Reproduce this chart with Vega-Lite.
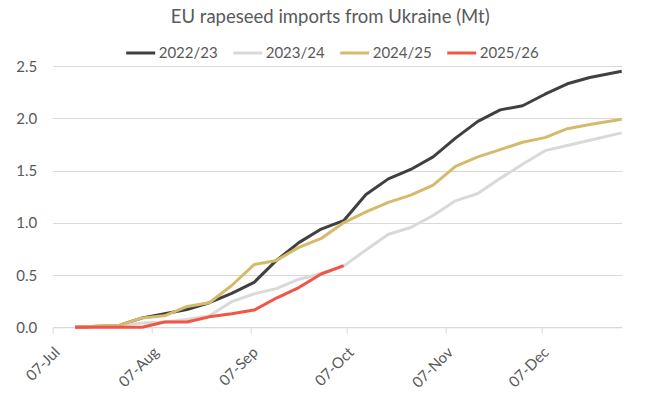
{
  "$schema": "https://vega.github.io/schema/vega-lite/v6.json",
  "autosize": "none",
  "padding": {"left": 52.7, "top": 66, "right": 24.3, "bottom": 75.7},
  "width": 569,
  "height": 261.3,
  "background": "white",
  "title": {
    "text": "EU rapeseed imports from Ukraine (Mt)",
    "anchor": "middle",
    "font": "Lato",
    "fontSize": 18.5,
    "fontWeight": "normal",
    "color": "#595959",
    "offset": 11,
    "dx": -7
  },
  "config": {
    "view": {"stroke": null},
    "font": "Lato"
  },
  "data": {
    "values": [
      {"date": "2025-07-14", "season": "2022/23", "value": 0},
      {"date": "2025-07-21", "season": "2022/23", "value": 0.01},
      {"date": "2025-07-28", "season": "2022/23", "value": 0.02},
      {"date": "2025-08-04", "season": "2022/23", "value": 0.09},
      {"date": "2025-08-11", "season": "2022/23", "value": 0.13},
      {"date": "2025-08-18", "season": "2022/23", "value": 0.17},
      {"date": "2025-08-25", "season": "2022/23", "value": 0.235},
      {"date": "2025-09-01", "season": "2022/23", "value": 0.325},
      {"date": "2025-09-08", "season": "2022/23", "value": 0.43},
      {"date": "2025-09-15", "season": "2022/23", "value": 0.64},
      {"date": "2025-09-22", "season": "2022/23", "value": 0.81},
      {"date": "2025-09-29", "season": "2022/23", "value": 0.94},
      {"date": "2025-10-06", "season": "2022/23", "value": 1.02},
      {"date": "2025-10-13", "season": "2022/23", "value": 1.27},
      {"date": "2025-10-20", "season": "2022/23", "value": 1.42},
      {"date": "2025-10-27", "season": "2022/23", "value": 1.51},
      {"date": "2025-11-03", "season": "2022/23", "value": 1.63},
      {"date": "2025-11-10", "season": "2022/23", "value": 1.81},
      {"date": "2025-11-17", "season": "2022/23", "value": 1.97},
      {"date": "2025-11-24", "season": "2022/23", "value": 2.08},
      {"date": "2025-12-01", "season": "2022/23", "value": 2.12},
      {"date": "2025-12-08", "season": "2022/23", "value": 2.23},
      {"date": "2025-12-15", "season": "2022/23", "value": 2.33},
      {"date": "2025-12-22", "season": "2022/23", "value": 2.39},
      {"date": "2026-01-01", "season": "2022/23", "value": 2.45},

      {"date": "2025-07-14", "season": "2023/24", "value": 0},
      {"date": "2025-07-21", "season": "2023/24", "value": 0.01},
      {"date": "2025-07-28", "season": "2023/24", "value": 0.02},
      {"date": "2025-08-04", "season": "2023/24", "value": 0.04},
      {"date": "2025-08-11", "season": "2023/24", "value": 0.05},
      {"date": "2025-08-18", "season": "2023/24", "value": 0.075},
      {"date": "2025-08-25", "season": "2023/24", "value": 0.11},
      {"date": "2025-09-01", "season": "2023/24", "value": 0.245},
      {"date": "2025-09-08", "season": "2023/24", "value": 0.32},
      {"date": "2025-09-15", "season": "2023/24", "value": 0.37},
      {"date": "2025-09-22", "season": "2023/24", "value": 0.46},
      {"date": "2025-09-29", "season": "2023/24", "value": 0.515},
      {"date": "2025-10-06", "season": "2023/24", "value": 0.585},
      {"date": "2025-10-13", "season": "2023/24", "value": 0.74},
      {"date": "2025-10-20", "season": "2023/24", "value": 0.89},
      {"date": "2025-10-27", "season": "2023/24", "value": 0.955},
      {"date": "2025-11-03", "season": "2023/24", "value": 1.07},
      {"date": "2025-11-10", "season": "2023/24", "value": 1.21},
      {"date": "2025-11-17", "season": "2023/24", "value": 1.28},
      {"date": "2025-11-24", "season": "2023/24", "value": 1.425},
      {"date": "2025-12-01", "season": "2023/24", "value": 1.56},
      {"date": "2025-12-08", "season": "2023/24", "value": 1.69},
      {"date": "2025-12-15", "season": "2023/24", "value": 1.74},
      {"date": "2025-12-22", "season": "2023/24", "value": 1.79},
      {"date": "2026-01-01", "season": "2023/24", "value": 1.86},

      {"date": "2025-07-14", "season": "2024/25", "value": 0},
      {"date": "2025-07-21", "season": "2024/25", "value": 0.01},
      {"date": "2025-07-28", "season": "2024/25", "value": 0.02},
      {"date": "2025-08-04", "season": "2024/25", "value": 0.09},
      {"date": "2025-08-11", "season": "2024/25", "value": 0.11},
      {"date": "2025-08-18", "season": "2024/25", "value": 0.2},
      {"date": "2025-08-25", "season": "2024/25", "value": 0.235},
      {"date": "2025-09-01", "season": "2024/25", "value": 0.4},
      {"date": "2025-09-08", "season": "2024/25", "value": 0.6},
      {"date": "2025-09-15", "season": "2024/25", "value": 0.64},
      {"date": "2025-09-22", "season": "2024/25", "value": 0.765},
      {"date": "2025-09-29", "season": "2024/25", "value": 0.85},
      {"date": "2025-10-06", "season": "2024/25", "value": 1.0},
      {"date": "2025-10-13", "season": "2024/25", "value": 1.105},
      {"date": "2025-10-20", "season": "2024/25", "value": 1.195},
      {"date": "2025-10-27", "season": "2024/25", "value": 1.265},
      {"date": "2025-11-03", "season": "2024/25", "value": 1.36},
      {"date": "2025-11-10", "season": "2024/25", "value": 1.54},
      {"date": "2025-11-17", "season": "2024/25", "value": 1.63},
      {"date": "2025-11-24", "season": "2024/25", "value": 1.7},
      {"date": "2025-12-01", "season": "2024/25", "value": 1.77},
      {"date": "2025-12-08", "season": "2024/25", "value": 1.815},
      {"date": "2025-12-15", "season": "2024/25", "value": 1.9},
      {"date": "2025-12-22", "season": "2024/25", "value": 1.94},
      {"date": "2026-01-01", "season": "2024/25", "value": 1.99},

      {"date": "2025-07-14", "season": "2025/26", "value": 0},
      {"date": "2025-07-21", "season": "2025/26", "value": 0},
      {"date": "2025-07-28", "season": "2025/26", "value": 0},
      {"date": "2025-08-04", "season": "2025/26", "value": 0},
      {"date": "2025-08-11", "season": "2025/26", "value": 0.05},
      {"date": "2025-08-18", "season": "2025/26", "value": 0.05},
      {"date": "2025-08-25", "season": "2025/26", "value": 0.1},
      {"date": "2025-09-01", "season": "2025/26", "value": 0.13},
      {"date": "2025-09-08", "season": "2025/26", "value": 0.165},
      {"date": "2025-09-15", "season": "2025/26", "value": 0.28},
      {"date": "2025-09-22", "season": "2025/26", "value": 0.38},
      {"date": "2025-09-29", "season": "2025/26", "value": 0.51},
      {"date": "2025-10-06", "season": "2025/26", "value": 0.59}
    ]
  },
  "mark": {"type": "line", "strokeWidth": 3, "strokeJoin": "round", "strokeCap": "butt"},
  "encoding": {
    "x": {
      "field": "date",
      "type": "temporal",
      "scale": {
        "type": "utc",
        "domain": [
          {"year": 2025, "month": 7, "date": 7, "utc": true},
          {"year": 2026, "month": 1, "date": 1, "utc": true}
        ]
      },
      "axis": {
        "title": null,
        "values": [
          {"year": 2025, "month": 7, "date": 7, "utc": true},
          {"year": 2025, "month": 8, "date": 7, "utc": true},
          {"year": 2025, "month": 9, "date": 7, "utc": true},
          {"year": 2025, "month": 10, "date": 7, "utc": true},
          {"year": 2025, "month": 11, "date": 7, "utc": true},
          {"year": 2025, "month": 12, "date": 7, "utc": true}
        ],
        "labelExpr": "utcFormat(datum.value, '%d-%b')",
        "grid": false,
        "domain": true,
        "domainColor": "#d9d9d9",
        "domainWidth": 1,
        "ticks": true,
        "tickColor": "#d9d9d9",
        "tickSize": 6,
        "labelAngle": -45,
        "labelAlign": "right",
        "labelBaseline": "middle",
        "labelPadding": 16,
        "labelOffset": 4,
        "labelFont": "Lato",
        "labelFontSize": 15,
        "labelColor": "#595959"
      }
    },
    "y": {
      "field": "value",
      "type": "quantitative",
      "scale": {"domain": [0, 2.5], "nice": false},
      "axis": {
        "title": null,
        "values": [0, 0.5, 1, 1.5, 2, 2.5],
        "format": ".1f",
        "grid": true,
        "gridColor": "#d9d9d9",
        "gridWidth": 1,
        "domain": false,
        "ticks": false,
        "labelPadding": 16,
        "labelFont": "Lato",
        "labelFontSize": 15,
        "labelColor": "#595959"
      }
    },
    "color": {
      "field": "season",
      "type": "nominal",
      "scale": {
        "domain": ["2022/23", "2023/24", "2024/25", "2025/26"],
        "range": ["#404040", "#d9d9d9", "#d6ba6b", "#f25544"]
      },
      "legend": {
        "title": null,
        "orient": "none",
        "direction": "horizontal",
        "legendX": 72,
        "legendY": -29,
        "symbolType": "stroke",
        "symbolStrokeWidth": 3,
        "symbolSize": 841,
        "labelFont": "Lato",
        "labelFontSize": 15,
        "labelColor": "#595959",
        "labelOffset": 2,
        "columnPadding": 9
      }
    }
  }
}
